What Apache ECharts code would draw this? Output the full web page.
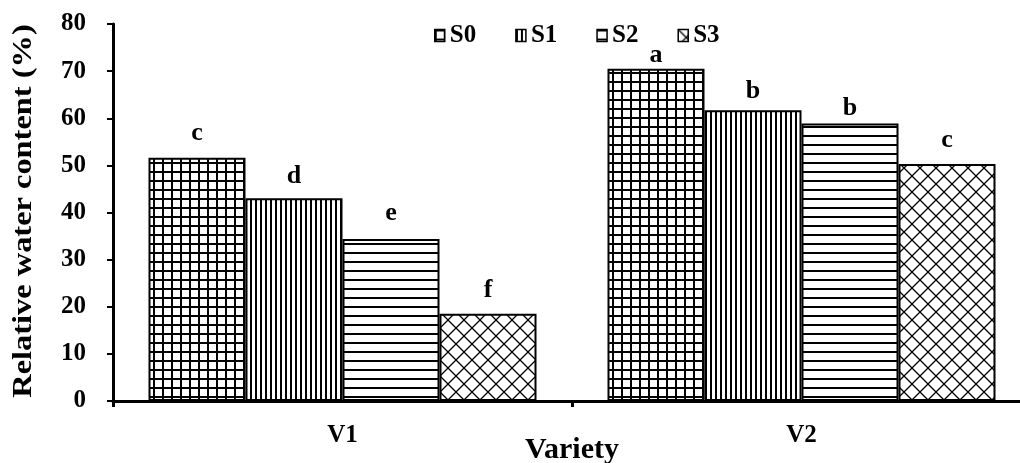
<!DOCTYPE html>
<html>
<head>
<meta charset="utf-8">
<script src="https://cdn.jsdelivr.net/npm/echarts@6/dist/echarts.min.js"></script>
<style>
html,body{margin:0;padding:0;background:#fff;}
#chart{width:1020px;height:463px;}
</style>
</head>
<body>
<div id="chart"></div>
<script>
// ---- data ----
var categories = ['V1', 'V2'];
var seriesNames = ['S0', 'S1', 'S2', 'S3'];
var s0Values = [51.6, 70.5];
var s1Values = [43.0, 61.7];
var s2Values = [34.4, 58.9];
var s3Values = [18.5, 50.3];
var s0Letters = ['c', 'a'];
var s1Letters = ['d', 'b'];
var s2Letters = ['e', 'b'];
var s3Letters = ['f', 'c'];
var yTicks = [0, 10, 20, 30, 40, 50, 60, 70, 80];
var yTitle = 'Relative water content (%)';
var xTitle = 'Variety';

// ---- label gaps (style only) ----
var labelGaps = [[12, 0], [9, 6], [13, 2], [11, 11]];

// ---- patterns ----
function makeCanvas(w, h, draw) {
  var c = document.createElement('canvas');
  c.width = w; c.height = h;
  var ctx = c.getContext('2d');
  ctx.fillStyle = '#fff';
  ctx.fillRect(0, 0, w, h);
  ctx.fillStyle = '#000';
  ctx.strokeStyle = '#000';
  draw(ctx);
  return c;
}
var patGrid = makeCanvas(9, 9, function (ctx) {
  ctx.fillRect(0, 0, 2, 9);
  ctx.fillRect(0, 0, 9, 2);
});
var patVert = makeCanvas(5, 5, function (ctx) {
  ctx.fillRect(0, 0, 2, 5);
});
var patHorz = makeCanvas(9, 9, function (ctx) {
  ctx.fillRect(0, 0, 9, 2);
});
var patDiam = makeCanvas(16, 16, function (ctx) {
  ctx.lineWidth = 1.3;
  ctx.beginPath();
  ctx.moveTo(0, 0); ctx.lineTo(16, 16);
  ctx.moveTo(16, 0); ctx.lineTo(0, 16);
  ctx.stroke();
});
var patterns = [patGrid, patVert, patHorz, patDiam];
var valueSets = [s0Values, s1Values, s2Values, s3Values];
var letterSets = [s0Letters, s1Letters, s2Letters, s3Letters];

var FONT = 'Liberation Serif';

var series = seriesNames.map(function (name, i) {
  return {
    name: name,
    type: 'bar',
    barWidth: 97,
    barGap: '0%',
    data: valueSets[i].map(function (v, j) {
      return { value: v, label: { distance: labelGaps[i][j] } };
    }),
    itemStyle: {
      color: { image: patterns[i], repeat: 'repeat' },
      borderColor: '#000',
      borderWidth: 2
    },
    label: {
      show: true,
      position: 'top',
      fontFamily: FONT,
      fontWeight: 'bold',
      fontSize: 26,
      color: '#000',
      formatter: function (p) { return letterSets[i][p.dataIndex]; }
    },
    emphasis: { disabled: true }
  };
});

var chart = echarts.init(document.getElementById('chart'), null, { renderer: 'canvas' });
chart.setOption({
  animation: false,
  backgroundColor: '#fff',
  textStyle: { fontFamily: FONT, fontWeight: 'bold', color: '#000' },
  legend: {
    data: seriesNames,
    left: 429,
    top: 18,
    itemWidth: 10,
    itemHeight: 12,
    itemGap: 39,
    icon: 'rect',
    textStyle: { fontFamily: FONT, fontWeight: 'bold', fontSize: 25, color: '#000' },
    itemStyle: { borderColor: '#000', borderWidth: 1.5 }
  },
  graphic: [{
    type: 'text',
    x: 24,
    y: 211,
    rotation: Math.PI / 2,
    scaleX: 1.2,
    style: {
      text: yTitle,
      font: 'bold 27px "Liberation Serif"',
      fill: '#000',
      align: 'center',
      verticalAlign: 'middle'
    },
    silent: true
  }],
  grid: { left: 113, top: 24, width: 918, height: 377, containLabel: false, outerBoundsMode: 'none' },
  xAxis: {
    type: 'category',
    data: categories,
    name: xTitle,
    nameLocation: 'middle',
    nameGap: 34,
    nameMoveOverlap: false,
    nameTextStyle: { fontFamily: FONT, fontWeight: 'bold', fontSize: 30, color: '#000' },
    axisLine: { lineStyle: { color: '#000', width: 3 } },
    axisTick: { show: true, length: 6, lineStyle: { color: '#000', width: 3 } },
    axisLabel: { fontFamily: FONT, fontWeight: 'bold', fontSize: 25, color: '#000', margin: 22 },
    splitLine: { show: false }
  },
  yAxis: {
    type: 'value',
    min: yTicks[0],
    max: yTicks[yTicks.length - 1],
    interval: 10,
    axisLine: { show: true, lineStyle: { color: '#000', width: 3 } },
    axisTick: { show: true, length: 6, lineStyle: { color: '#000', width: 2 } },
    axisLabel: { fontFamily: FONT, fontWeight: 'bold', fontSize: 25, color: '#000', margin: 27 },
    splitLine: { show: false }
  },
  series: series
});
</script>
</body>
</html>
